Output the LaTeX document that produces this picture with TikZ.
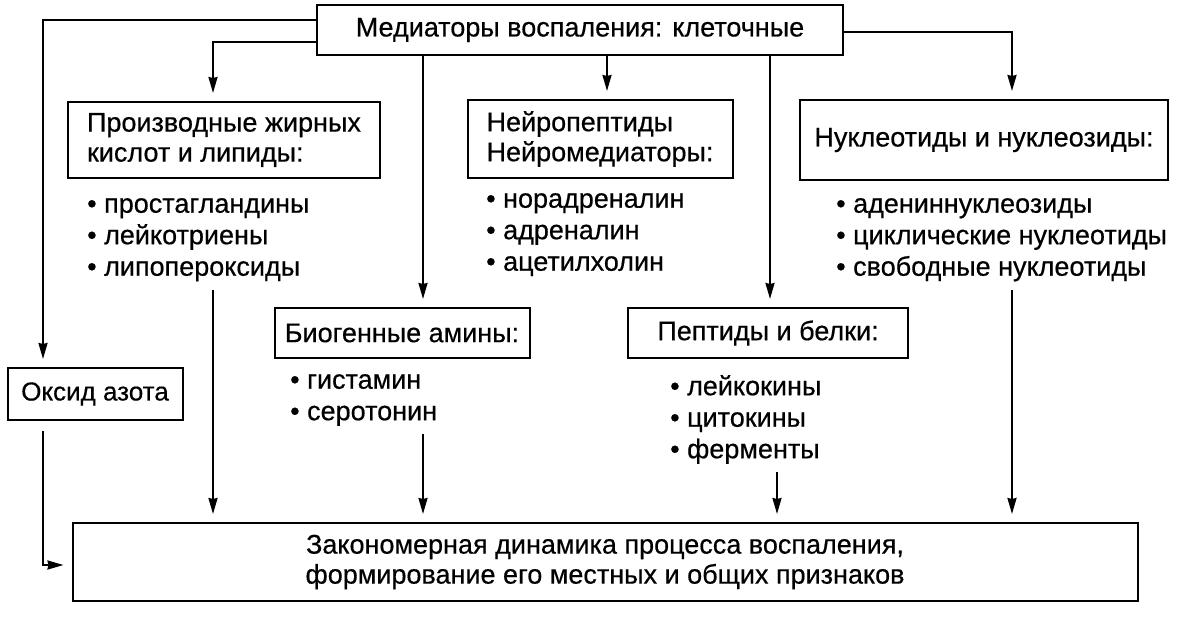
\documentclass[tikz,border=0pt]{standalone}
\usepackage{fontspec}
\setmainfont{Liberation Sans}[FakeBold=0.5]
\usetikzlibrary{arrows.meta}
\tikzstyle{box} = [rectangle, draw=black, line width=2pt, inner sep=0pt, align=left, font=\fontsize{27}{30}\selectfont]
\tikzstyle{items} = [anchor=north west, inner sep=0pt, align=left, font=\fontsize{27}{31.5}\selectfont]
\tikzstyle{arrow} = [line width=2pt, -{Stealth[length=16pt,width=9pt,inset=1pt]}, shorten >=8pt]

\begin{document}
\begin{tikzpicture}[x=1pt, y=-1pt]
        \useasboundingbox (0,0) rectangle (1185,626);
        % boxes
        \node (top) [box, minimum width=526pt, minimum height=50pt] at (580,30) {Медиаторы воспаления: клеточные};
        \node (fat) [box, minimum width=312pt, minimum height=76pt] at (224,140) {Производные жирных\\кислот и липиды:};
        \node (neuro) [box, minimum width=265pt, minimum height=78pt] at (600,139) {Нейропептиды\\Нейромедиаторы:};
        \node (nucl) [box, minimum width=368pt, minimum height=80pt] at (984,140) {Нуклеотиды и нуклеозиды:};
        \node (amines) [box, minimum width=255pt, minimum height=50pt] at (402,333) {Биогенные амины:};
        \node (pept) [box, minimum width=280pt, minimum height=50pt] at (768,333) {Пептиды и белки:};
        \node (oxide) [box, minimum width=175pt, minimum height=52pt, font=\fontsize{26}{30}\selectfont] at (95,394) {Оксид азота};
        \node (result) [box, align=center, minimum width=1065pt, minimum height=78pt] at (605,562) {Закономерная динамика процесса воспаления,\\формирование его местных и общих признаков};
        % lists
        \node (fatlist) [items] at (87,198) {• простагландины\\• лейкотриены\\• липопероксиды};
        \node (neurolist) [items] at (486,193) {• норадреналин\\• адреналин\\• ацетилхолин};
        \node (nucllist) [items] at (836,198) {• адениннуклеозиды\\• циклические нуклеотиды\\• свободные нуклеотиды};
        \node (amineslist) [items] at (290,374) {• гистамин\\• серотонин};
        \node (peptlist) [items] at (670,375) {• лейкокины\\• цитокины\\• ферменты};
        % bends
        \coordinate (oxbend) at (43,20);
        \coordinate (fatbend) at (213,42);
        \coordinate (nuclbend) at (1012,32);
        \coordinate (amx) at (423,0);
        \coordinate (neurox) at (607,0);
        \coordinate (peptx) at (770,0);
        \coordinate (peptdown) at (777,0);
        \coordinate (oxdown) at (43,565);
        % from the top box
        \draw [arrow] (top.west |- oxbend) -- (oxbend) -- (oxide.north -| oxbend);
        \draw [arrow] (top.west |- fatbend) -- (fatbend) -- (fat.north -| fatbend);
        \draw [arrow] (top.east |- nuclbend) -- (nuclbend) -- (nucl.north -| nuclbend);
        \draw [arrow] (top.south -| amx) -- (amines.north -| amx);
        \draw [arrow] (top.south -| neurox) -- (neuro.north -| neurox);
        \draw [arrow] (top.south -| peptx) -- (pept.north -| peptx);
        % down to the result
        \draw [arrow] ([yshift=-8pt]fatlist.south -| fatbend) -- (result.north -| fatbend);
        \draw [arrow] ([yshift=-8pt]amineslist.south -| amx) -- (result.north -| amx);
        \draw [arrow] ([yshift=-8pt]peptlist.south -| peptdown) -- (result.north -| peptdown);
        \draw [arrow] ([yshift=-8pt]nucllist.south -| nuclbend) -- (result.north -| nuclbend);
        \draw [arrow] ([yshift=-10pt]oxide.south -| oxdown) -- (oxdown) -- (result.west |- oxdown);
\end{tikzpicture}
\end{document}
